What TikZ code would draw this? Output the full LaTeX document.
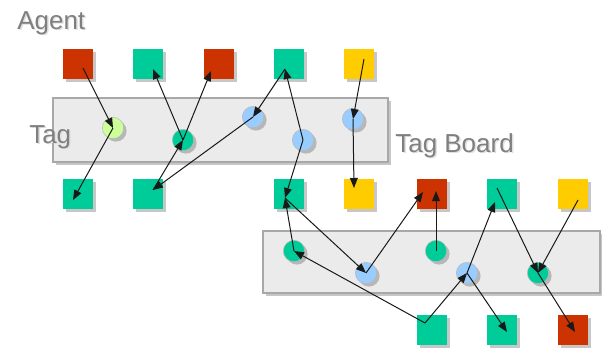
\documentclass[tikz,border=0pt]{standalone}
\usepackage{fontspec}
\setmainfont{Liberation Sans}
\usetikzlibrary{shadows,arrows.meta}
\definecolor{agred}{HTML}{CC3300}
\definecolor{aggreen}{HTML}{00CC99}
\definecolor{agyellow}{HTML}{FFCC00}
\definecolor{tagblue}{HTML}{99CCFF}
\definecolor{taglime}{HTML}{CCFF99}
\definecolor{boardfill}{HTML}{EBEBEB}
\definecolor{boardline}{HTML}{A8A8A8}
\definecolor{labelgray}{HTML}{7F7F7F}
\begin{document}
\begin{tikzpicture}[x=0.75pt,y=-0.75pt,
  softshadow/.style={drop shadow={shadow xshift=2.2pt,shadow yshift=-2.2pt,fill=black,opacity=0.22}},
  agent/.style={rectangle,minimum size=23pt,inner sep=0pt,draw=none,softshadow},
  tag/.style={circle,minimum size=16pt,inner sep=0pt,draw=gray!55,line width=0.4pt,softshadow},
  board/.style={rectangle,inner sep=0pt,fill=boardfill,draw=boardline,line width=0.8pt,softshadow},
  link/.style={-{Triangle[length=7.5pt,width=5.8pt]},line width=0.75pt,black!90},
  lbl/.style={font=\fontsize{19.5}{22}\selectfont,text=labelgray,inner sep=0pt,anchor=base west},
  lblshadow/.style={lbl,text=black!12}
]
\useasboundingbox (0,0) rectangle (602,350);

% tag boards
\node[board,minimum width=251.25pt,minimum height=48pt] (board1) at (220.5,130) {};
\node[board,minimum width=252.75pt,minimum height=46.5pt] (board2) at (431.5,262) {};

% labels (with a faint offset shadow)
\node[lblshadow] (agentsh) at (18.5,30.5) {Agent};
\node[lbl] (agentlbl) at (17,29) {Agent};
\node[lblshadow] (tagsh) at (30.5,144.5) {Tag};
\node[lbl] (taglbl) at (29,143) {Tag};
\node[lblshadow] (boardsh) at (396.5,153.5) {Tag Board};
\node[lbl] (boardlbl) at (395,152) {Tag Board};

% tags on the first board
\node[tag,fill=taglime] (t1) at (113,128) {};
\node[tag,fill=aggreen] (t2) at (183,140) {};
\node[tag,fill=tagblue] (t3) at (253,117) {};
\node[tag,fill=tagblue] (t4) at (303,140) {};
\node[tag,fill=tagblue] (t5) at (353,119) {};

% tags on the second board
\node[tag,fill=aggreen] (u1) at (294,251) {};
\node[tag,fill=tagblue] (u2) at (366,273) {};
\node[tag,fill=aggreen] (u3) at (436,251) {};
\node[tag,fill=tagblue] (u4) at (467,273) {};
\node[tag,fill=aggreen] (u5) at (538,273) {};

% agents, top row
\node[agent,fill=agred]    (a1) at (78,64) {};
\node[agent,fill=aggreen]  (a2) at (148,64) {};
\node[agent,fill=agred]    (a3) at (219,64) {};
\node[agent,fill=aggreen]  (a4) at (289,64) {};
\node[agent,fill=agyellow] (a5) at (359,64) {};

% agents, middle row
\node[agent,fill=aggreen]  (b1) at (78,194) {};
\node[agent,fill=aggreen]  (b2) at (148,194) {};
\node[agent,fill=aggreen]  (b3) at (289,194) {};
\node[agent,fill=agyellow] (b4) at (359,194) {};
\node[agent,fill=agred]    (b5) at (432,194) {};
\node[agent,fill=aggreen]  (b6) at (502,194) {};
\node[agent,fill=agyellow] (b7) at (573,194) {};

% agents, bottom row
\node[agent,fill=aggreen] (c1) at (432,330) {};
\node[agent,fill=aggreen] (c2) at (502,330) {};
\node[agent,fill=agred]   (c3) at (573,330) {};

% reads and writes around the first board
\draw[link] ([shift={(5,4)}]a1.center) -- (t1.center);
\draw[link] (t1.center) -- ([shift={(-5,6)}]b1.center);
\draw[link] (t2.center) -- ([shift={(5,5)}]a2.center);
\draw[link] (t2.center) -- ([shift={(-8,7)}]a3.center);
\draw[link] ([shift={(5,-4)}]b2.center) -- (t2.center);
\draw[link] (t3.center) -- ([shift={(5,-4)}]b2.center);
\draw[link] ([shift={(-4,5)}]a4.center) -- (t3.center);
\draw[link] (t4.center) -- ([shift={(-4,5)}]a4.center);
\draw[link] (t4.center) -- ([shift={(-4,4)}]b3.center);
\draw[link] ([shift={(5,-5)}]a5.center) -- (t5.center);
\draw[link] (t5.center) -- ([shift={(-5,-6)}]b4.center);

% reads and writes around the second board
\draw[link] (u1.center) -- ([shift={(-4,4)}]b3.center);
\draw[link] ([shift={(-7,-7)}]c1.center) -- (u1.center);
\draw[link] ([shift={(-4,4)}]b3.center) -- (u2.center);
\draw[link] (u2.center) -- ([shift={(-9,-2)}]b5.center);
\draw[link] (u3.center) -- ([shift={(4,-3)}]b5.center);
\draw[link] ([shift={(-7,-7)}]c1.center) -- (u4.center);
\draw[link] (u4.center) -- ([shift={(-7,8)}]b6.center);
\draw[link] (u4.center) -- ([shift={(5,2)}]c2.center);
\draw[link] ([shift={(-5,-6)}]b6.center) -- (u5.center);
\draw[link] ([shift={(5,6)}]b7.center) -- (u5.center);
\draw[link] (u5.center) -- ([shift={(2,2)}]c3.center);
\end{tikzpicture}
\end{document}
